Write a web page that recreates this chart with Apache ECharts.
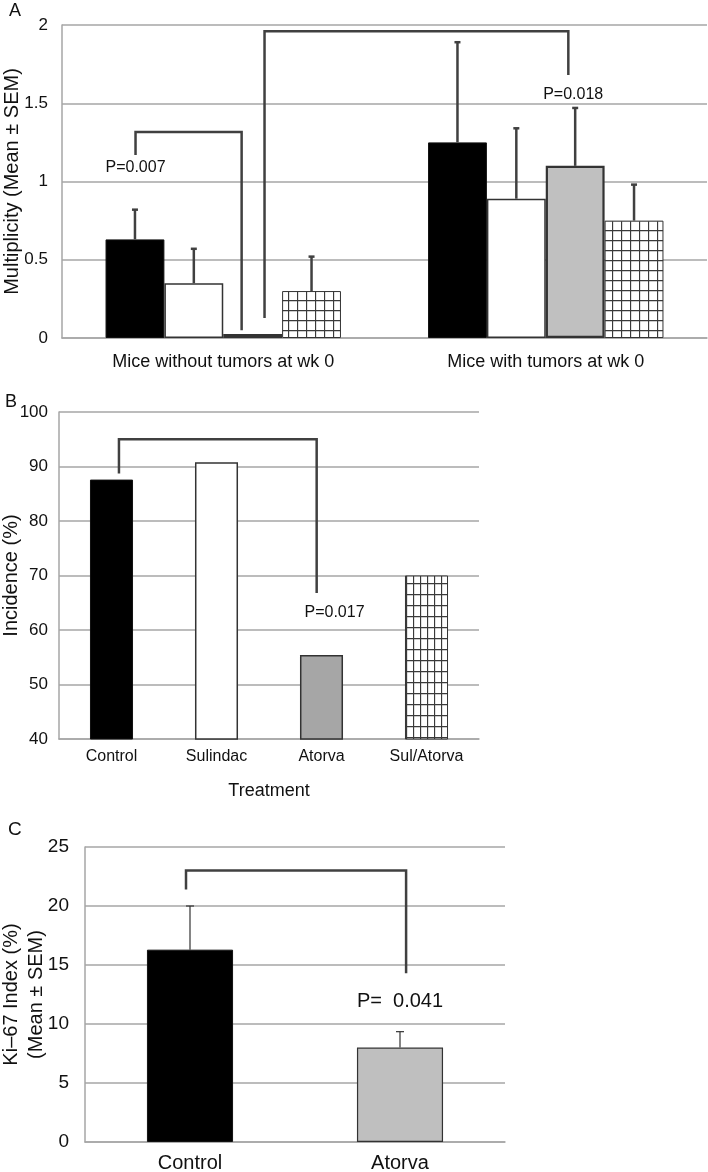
<!DOCTYPE html>
<html>
<head>
<meta charset="utf-8">
<script src="https://cdn.jsdelivr.net/npm/echarts@6/dist/echarts.min.js"></script>
<style>
html,body{margin:0;padding:0;background:#fff;}
#chart{width:708px;height:1172px;}
</style>
</head>
<body>
<div id="chart"></div>
<script>
// ---------- Data ----------
// Panel A: tumor multiplicity (mean ± SEM)
const A_categories = ['Mice without tumors at wk 0', 'Mice with tumors at wk 0'];
const A_control    = [0.63, 1.25];
const A_controlSem = [0.19, 0.64];
const A_sulindac    = [0.35, 0.89];
const A_sulindacSem = [0.22, 0.45];
const A_atorva    = [0.025, 1.10];
const A_atorvaSem = [0, 0.37];
const A_sulAtorva    = [0.30, 0.75];
const A_sulAtorvaSem = [0.22, 0.23];
const A_yTicks = { min: 0, max: 2, interval: 0.5 };
const A_pTexts = ['P=0.007', 'P=0.018'];
// annotation anchor points in data units (x: category-band units, y: value units)
const A_pAnchors = [[0.228, 1.086], [1.585, 1.553]];
const A_brackets = [
  { x: [0.228, 0.557], y: [1.17, 1.316, 0.05] },
  { x: [0.628, 1.570], y: [0.128, 1.96, 1.68] }
];

// Panel B: incidence (%)
const B_categories = ['Control', 'Sulindac', 'Atorva', 'Sul/Atorva'];
const B_incidence  = [87.6, 90.8, 55.4, 70.0];
const B_yTicks = { min: 40, max: 100, interval: 10 };
const B_pTexts = ['P=0.017'];
const B_pAnchors = [[2.624, 63.2]];
const B_brackets = [ { x: [0.571, 2.454], y: [88.7, 95.0, 66.8] } ];

// Panel C: Ki-67 index (mean ± SEM)
const C_categories = ['Control', 'Atorva'];
const C_ki67 = [16.3, 8.0];
const C_sem  = [3.7, 1.35];
const C_yTicks = { min: 0, max: 25, interval: 5 };
const C_pTexts = ['P=  0.041'];
const C_pAnchors = [[1.5, 11.9]];
const C_brackets = [ { x: [0.481, 1.529], y: [21.4, 23.0, 14.3] } ];

// ---------- Styles ----------
const FONT = 'Liberation Sans, Arial, sans-serif';
const GRIDLINE = '#a6a6a6';
const DARK = '#404040';

function hatch(w, h, lineColor) {
  const c = document.createElement('canvas');
  c.width = w; c.height = h;
  const g = c.getContext('2d');
  g.fillStyle = '#fff'; g.fillRect(0, 0, w, h);
  g.strokeStyle = lineColor; g.lineWidth = 1.3;
  g.beginPath();
  g.moveTo(0.5, 0); g.lineTo(0.5, h);
  g.moveTo(0, 0.5); g.lineTo(w, 0.5);
  g.stroke();
  return { image: c, repeat: 'repeat' };
}
const hatchA = hatch(9, 10, '#3a3a3a');
const hatchB = hatch(7, 11, '#3a3a3a');

const A_styles = [
  { color: '#000', borderColor: '#111', borderWidth: 1 },
  { color: '#fff', borderColor: '#333', borderWidth: 1.5 },
  { color: '#c0c0c0', borderColor: '#333', borderWidth: 2.2 },
  { color: hatchA, borderColor: '#333', borderWidth: 1 }
];
const B_styles = [
  { color: '#000', borderColor: '#111', borderWidth: 1 },
  { color: '#fff', borderColor: '#333', borderWidth: 1.5 },
  { color: '#a6a6a6', borderColor: '#333', borderWidth: 1.5 },
  { color: hatchB, borderColor: '#333', borderWidth: 1 }
];
const C_styles = [
  { color: '#000', borderColor: '#111', borderWidth: 1 },
  { color: '#bfbfbf', borderColor: '#333', borderWidth: 1.2 }
];

const A_GAP = 0.27, B_GAP = 0.59, C_GAP = 0.59;

// ---------- Helpers ----------
function errorBars(xIdx, yIdx, values, sems, sIndex, nSeries, gap, lineW, capW, color) {
  const data = [];
  values.forEach((v, i) => { if (sems[i] > 0) data.push([i, v, sems[i]]); });
  return {
    type: 'custom', xAxisIndex: xIdx, yAxisIndex: yIdx, z: 5, silent: true,
    animation: false, clip: false,
    data: data,
    renderItem: function (params, api) {
      const c = api.value(0), v = api.value(1), e = api.value(2);
      const base = api.coord([c, v]);
      const top = api.coord([c, v + e]);
      const band = api.size([1, 0])[0];
      const groupW = band * (1 - gap);
      const bw = groupW / nSeries;
      const x = base[0] - groupW / 2 + bw * (sIndex + 0.5);
      const style = { stroke: color, lineWidth: lineW };
      return {
        type: 'group',
        children: [
          { type: 'line', shape: { x1: x, y1: base[1], x2: x, y2: top[1] }, style: style },
          { type: 'line', shape: { x1: x - capW / 2, y1: top[1], x2: x + capW / 2, y2: top[1] }, style: style }
        ]
      };
    }
  };
}

function bracketSeries(xIdx, yIdx, br, width) {
  return {
    type: 'line', xAxisIndex: xIdx, yAxisIndex: yIdx, symbol: 'none', silent: true,
    animation: false, z: 6,
    lineStyle: { color: DARK, width: width, join: 'miter' },
    data: [[br.x[0], br.y[0]], [br.x[0], br.y[1]], [br.x[1], br.y[1]], [br.x[1], br.y[2]]]
  };
}

function pTextSeries(xIdx, yIdx, anchors, texts, size) {
  return {
    type: 'custom', xAxisIndex: xIdx, yAxisIndex: yIdx, silent: true,
    animation: false, z: 7, clip: false,
    data: anchors.map(a => [a[0], a[1]]),
    renderItem: function (params, api) {
      const p = api.coord([api.value(0), api.value(1)]);
      return {
        type: 'text', x: p[0], y: p[1],
        style: {
          text: texts[params.dataIndex], fill: '#111',
          font: size + 'px ' + FONT, align: 'center', verticalAlign: 'middle'
        }
      };
    }
  };
}

function catAxis(gridIndex, data, size, margin, extra) {
  return Object.assign({
    type: 'category', gridIndex: gridIndex, data: data,
    axisLine: { show: true, lineStyle: { color: GRIDLINE, width: 1.5 } },
    axisTick: { show: false },
    axisLabel: { color: '#111', fontFamily: FONT, fontSize: size, margin: margin, interval: 0 }
  }, extra || {});
}
function hiddenX(gridIndex, max) {
  return { type: 'value', gridIndex: gridIndex, min: 0, max: max, show: false };
}
function valAxis(gridIndex, t, size, margin, name, nameSize, nameGap) {
  return {
    type: 'value', gridIndex: gridIndex, min: t.min, max: t.max, interval: t.interval,
    axisLine: { show: true, lineStyle: { color: GRIDLINE, width: 1.5 } },
    axisTick: { show: false },
    splitLine: { show: true, lineStyle: { color: GRIDLINE, width: 1.5 } },
    axisLabel: { color: '#111', fontFamily: FONT, fontSize: size, margin: margin },
    name: name, nameLocation: 'middle', nameGap: nameGap, nameRotate: 90,
    nameMoveOverlap: false,
    nameTextStyle: { color: '#111', fontFamily: FONT, fontSize: nameSize, lineHeight: nameSize * 1.25 }
  };
}

// ---------- Series ----------
const series = [];
const A_values = [A_control, A_sulindac, A_atorva, A_sulAtorva];
const A_sems = [A_controlSem, A_sulindacSem, A_atorvaSem, A_sulAtorvaSem];
const A_names = ['Control', 'Sulindac', 'Atorva', 'Sul/Atorva'];
A_values.forEach((vals, s) => {
  series.push({
    type: 'bar', name: A_names[s], xAxisIndex: 0, yAxisIndex: 0,
    barGap: '0%', barCategoryGap: (A_GAP * 100) + '%',
    itemStyle: A_styles[s], animation: false, data: vals
  });
});
A_values.forEach((vals, s) => {
  series.push(errorBars(0, 0, vals, A_sems[s], s, 4, A_GAP, 2.5, 6, DARK));
});
A_brackets.forEach(br => series.push(bracketSeries(1, 0, br, 2.5)));
series.push(pTextSeries(1, 0, A_pAnchors, A_pTexts, 16));

series.push({
  type: 'bar', xAxisIndex: 2, yAxisIndex: 1, barCategoryGap: (B_GAP * 100) + '%',
  animation: false,
  data: B_incidence.map((v, i) => ({ value: v, itemStyle: B_styles[i] }))
});
B_brackets.forEach(br => series.push(bracketSeries(3, 1, br, 2.5)));
series.push(pTextSeries(3, 1, B_pAnchors, B_pTexts, 16));

series.push({
  type: 'bar', xAxisIndex: 4, yAxisIndex: 2, barCategoryGap: (C_GAP * 100) + '%',
  animation: false,
  data: C_ki67.map((v, i) => ({ value: v, itemStyle: C_styles[i] }))
});
series.push(errorBars(4, 2, C_ki67, C_sem, 0, 1, C_GAP, 1.2, 8, '#333'));
C_brackets.forEach(br => series.push(bracketSeries(5, 2, br, 2.5)));
series.push(pTextSeries(5, 2, C_pAnchors, C_pTexts, 20));

const chart = echarts.init(document.getElementById('chart'), null, { renderer: 'canvas' });
chart.setOption({
  backgroundColor: '#fff',
  animation: false,
  grid: [
    { left: 62, top: 25, width: 645, height: 313, outerBoundsMode: 'none', containLabel: false },
    { left: 59, top: 412, width: 420, height: 327, outerBoundsMode: 'none', containLabel: false },
    { left: 85, top: 847, width: 420, height: 295, outerBoundsMode: 'none', containLabel: false }
  ],
  xAxis: [
    catAxis(0, A_categories, 18, 15),
    hiddenX(0, A_categories.length),
    catAxis(1, B_categories, 16, 10, {
      name: 'Treatment', nameLocation: 'middle', nameGap: 43, nameMoveOverlap: false,
      nameTextStyle: { color: '#111', fontFamily: FONT, fontSize: 18 }
    }),
    hiddenX(1, B_categories.length),
    catAxis(2, C_categories, 20, 11),
    hiddenX(2, C_categories.length)
  ],
  yAxis: [
    valAxis(0, A_yTicks, 17, 14, 'Multiplicity (Mean \u00b1 SEM)', 20, 37),
    valAxis(1, B_yTicks, 17, 11, 'Incidence (%)', 20, 35),
    valAxis(2, C_yTicks, 19, 16, 'Ki\u201367 Index (%)\n(Mean \u00b1 SEM)', 20, 36)
  ],
  graphic: [
    { type: 'text', left: 9, top: 2, style: { text: 'A', font: '18px ' + FONT, fill: '#111' } },
    { type: 'text', left: 5, top: 393, style: { text: 'B', font: '18px ' + FONT, fill: '#111' } },
    { type: 'text', left: 8, top: 820, style: { text: 'C', font: '19px ' + FONT, fill: '#111' } }
  ],
  series: series
});
</script>
</body>
</html>
